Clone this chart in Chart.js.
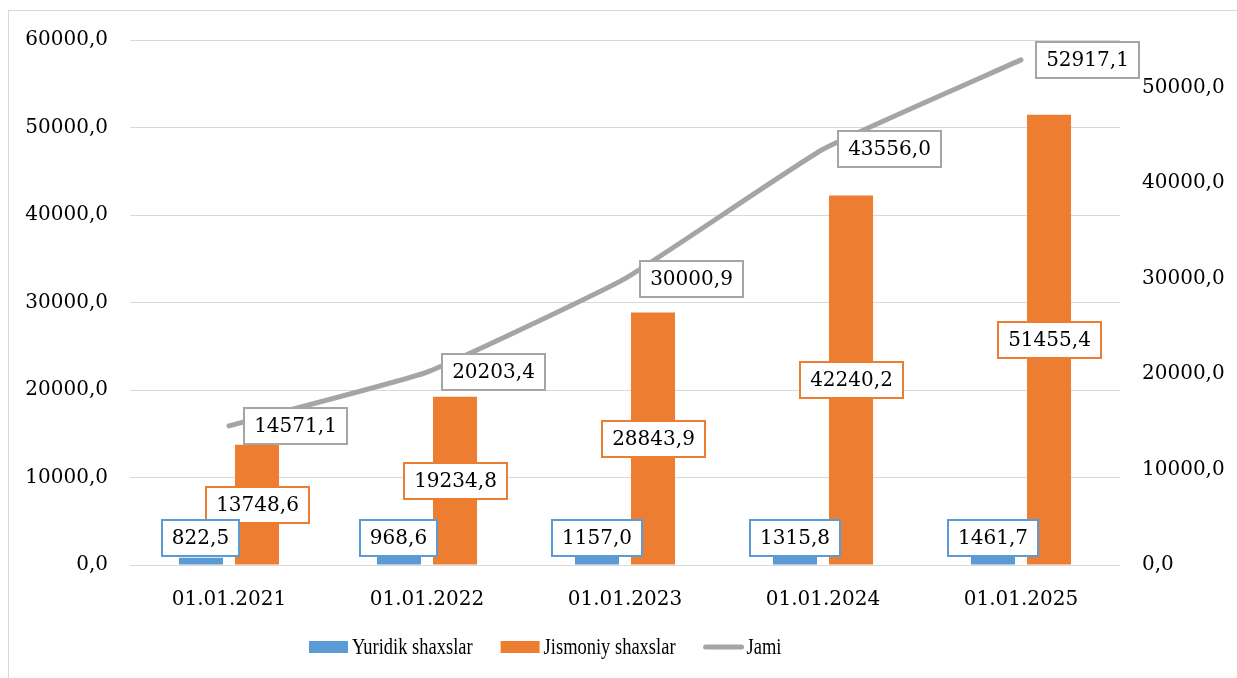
<!DOCTYPE html>
<html>
<head>
<meta charset="utf-8">
<script src="https://cdn.jsdelivr.net/npm/chart.js@4.4.1/dist/chart.umd.min.js"></script>
<style>
  html, body { margin: 0; padding: 0; background: #fff; }
  #wrap { position: relative; width: 1237px; height: 678px; overflow: hidden; }
  #frame { position: absolute; left: 8px; top: 10px; width: 1300px; height: 700px;
           border-top: 1px solid #d9d9d9; border-left: 1px solid #d9d9d9; }
  canvas { position: absolute; left: 0; top: 0; }
</style>
</head>
<body>
<div id="wrap">
  <div id="frame"></div>
  <canvas id="chart" width="1237" height="678"></canvas>
</div>
<script>
// data
const categories = ['01.01.2021', '01.01.2022', '01.01.2023', '01.01.2024', '01.01.2025'];
const yuridik = [822.5, 968.6, 1157.0, 1315.8, 1461.7];
const jismoniy = [13748.6, 19234.8, 28843.9, 42240.2, 51455.4];
const jami = [14571.1, 20203.4, 30000.9, 43556.0, 52917.1];
const seriesNames = ['Yuridik shaxslar', 'Jismoniy shaxslar', 'Jami'];
const rightTicks = [0, 10000, 20000, 30000, 40000, 50000];

const BLUE = '#5B9BD5';
const ORANGE = '#ED7D31';
const GREY = '#A5A5A5';
const FONT = '"DejaVu Serif", serif';

function fmt(v) {
  return Number(v).toFixed(1).replace('.', ',');
}

// boxed data labels, like the Excel ones
const boxLabels = {
  id: 'boxLabels',
  afterDatasetsDraw(chart) {
    const ctx = chart.ctx;
    ctx.save();
    ctx.font = '20px ' + FONT;
    ctx.textAlign = 'center';
    ctx.textBaseline = 'middle';
    [2, 1, 0].forEach(di => {
      const ds = chart.data.datasets[di];
      const meta = chart.getDatasetMeta(di);
      meta.data.forEach((el, i) => {
        const txt = fmt(ds.data[i]);
        const w = Math.round(ctx.measureText(txt).width + 20);
        const h = 36;
        let cx, cy;
        if (di === 0) { cx = el.x; cy = el.base - 27; }
        else if (di === 1) { cx = el.x; cy = (el.y + el.base) / 2; }
        else { cx = el.x + 15 + w / 2; cy = el.y; }
        const x0 = Math.round(cx - w / 2), y0 = Math.round(cy - h / 2);
        ctx.fillStyle = '#fff';
        ctx.fillRect(x0, y0, w, h);
        ctx.lineWidth = 2;
        ctx.strokeStyle = ds.labelBorder;
        ctx.strokeRect(x0, y0, w, h);
        ctx.fillStyle = '#000';
        ctx.fillText(txt, x0 + w / 2, y0 + h / 2 + 1);
      });
    });
    ctx.restore();
  }
};

// legend at the bottom, drawn by hand to get the narrow look
const bottomLegend = {
  id: 'bottomLegend',
  afterDraw(chart) {
    const ctx = chart.ctx;
    ctx.save();
    ctx.font = '24px "Liberation Serif", serif';
    ctx.textBaseline = 'middle';
    const cy = 647;
    const squeeze = 0.77;
    let x = 309;
    chart.data.datasets.forEach(ds => {
      if (ds.type === 'line') {
        ctx.strokeStyle = ds.borderColor;
        ctx.lineWidth = 5;
        ctx.lineCap = 'round';
        ctx.beginPath();
        ctx.moveTo(x + 2, cy);
        ctx.lineTo(x + 38, cy);
        ctx.stroke();
      } else {
        ctx.fillStyle = ds.backgroundColor;
        ctx.fillRect(x, cy - 6, 39, 12);
      }
      x += 43;
      ctx.fillStyle = '#000';
      const tw = ctx.measureText(ds.label).width * squeeze;
      ctx.save();
      ctx.translate(x, cy + 1);
      ctx.scale(squeeze, 1);
      ctx.fillText(ds.label, 0, 0);
      ctx.restore();
      x += tw + 28;
    });
    ctx.restore();
  }
};

new Chart(document.getElementById('chart'), {
  type: 'bar',
  data: {
    labels: categories,
    datasets: [
      {
        label: seriesNames[0],
        data: yuridik,
        backgroundColor: BLUE,
        labelBorder: BLUE,
        yAxisID: 'y',
        order: 1,
        categoryPercentage: 0.566,
        barPercentage: 0.786
      },
      {
        label: seriesNames[1],
        data: jismoniy,
        backgroundColor: ORANGE,
        labelBorder: ORANGE,
        yAxisID: 'y',
        order: 1,
        categoryPercentage: 0.566,
        barPercentage: 0.786
      },
      {
        type: 'line',
        label: seriesNames[2],
        data: jami,
        borderColor: GREY,
        backgroundColor: GREY,
        labelBorder: GREY,
        borderWidth: 5,
        borderCapStyle: 'round',
        borderJoinStyle: 'round',
        tension: 0.12,
        pointRadius: 0,
        yAxisID: 'y1',
        order: 0
      }
    ]
  },
  options: {
    responsive: false,
    animation: false,
    layout: { padding: { top: 40, left: 0, right: 0, bottom: 0 } },
    plugins: {
      legend: { display: false },
      tooltip: { enabled: false },
      title: { display: false }
    },
    scales: {
      x: {
        grid: { display: false },
        border: { display: false },
        ticks: { color: '#000', font: { family: FONT, size: 20 }, padding: 15, maxRotation: 0 },
        afterFit(s) { s.height = 113; }
      },
      y: {
        position: 'left',
        min: 0,
        max: 60000,
        ticks: { stepSize: 10000, color: '#000', font: { family: FONT, size: 20 }, padding: 22, callback: v => fmt(v) },
        grid: { color: '#D9D9D9', lineWidth: 1, drawTicks: false },
        border: { display: false },
        afterFit(s) { s.width = 130; }
      },
      y1: {
        position: 'right',
        min: 0,
        max: 55000,
        ticks: { color: '#000', font: { family: FONT, size: 20 }, padding: 22, autoSkip: false, callback: v => fmt(v) },
        grid: { display: false, drawTicks: false },
        border: { display: false },
        afterBuildTicks(s) { s.ticks = rightTicks.map(v => ({ value: v })); },
        afterFit(s) { s.width = 117; }
      }
    }
  },
  plugins: [boxLabels, bottomLegend]
});
</script>
</body>
</html>
